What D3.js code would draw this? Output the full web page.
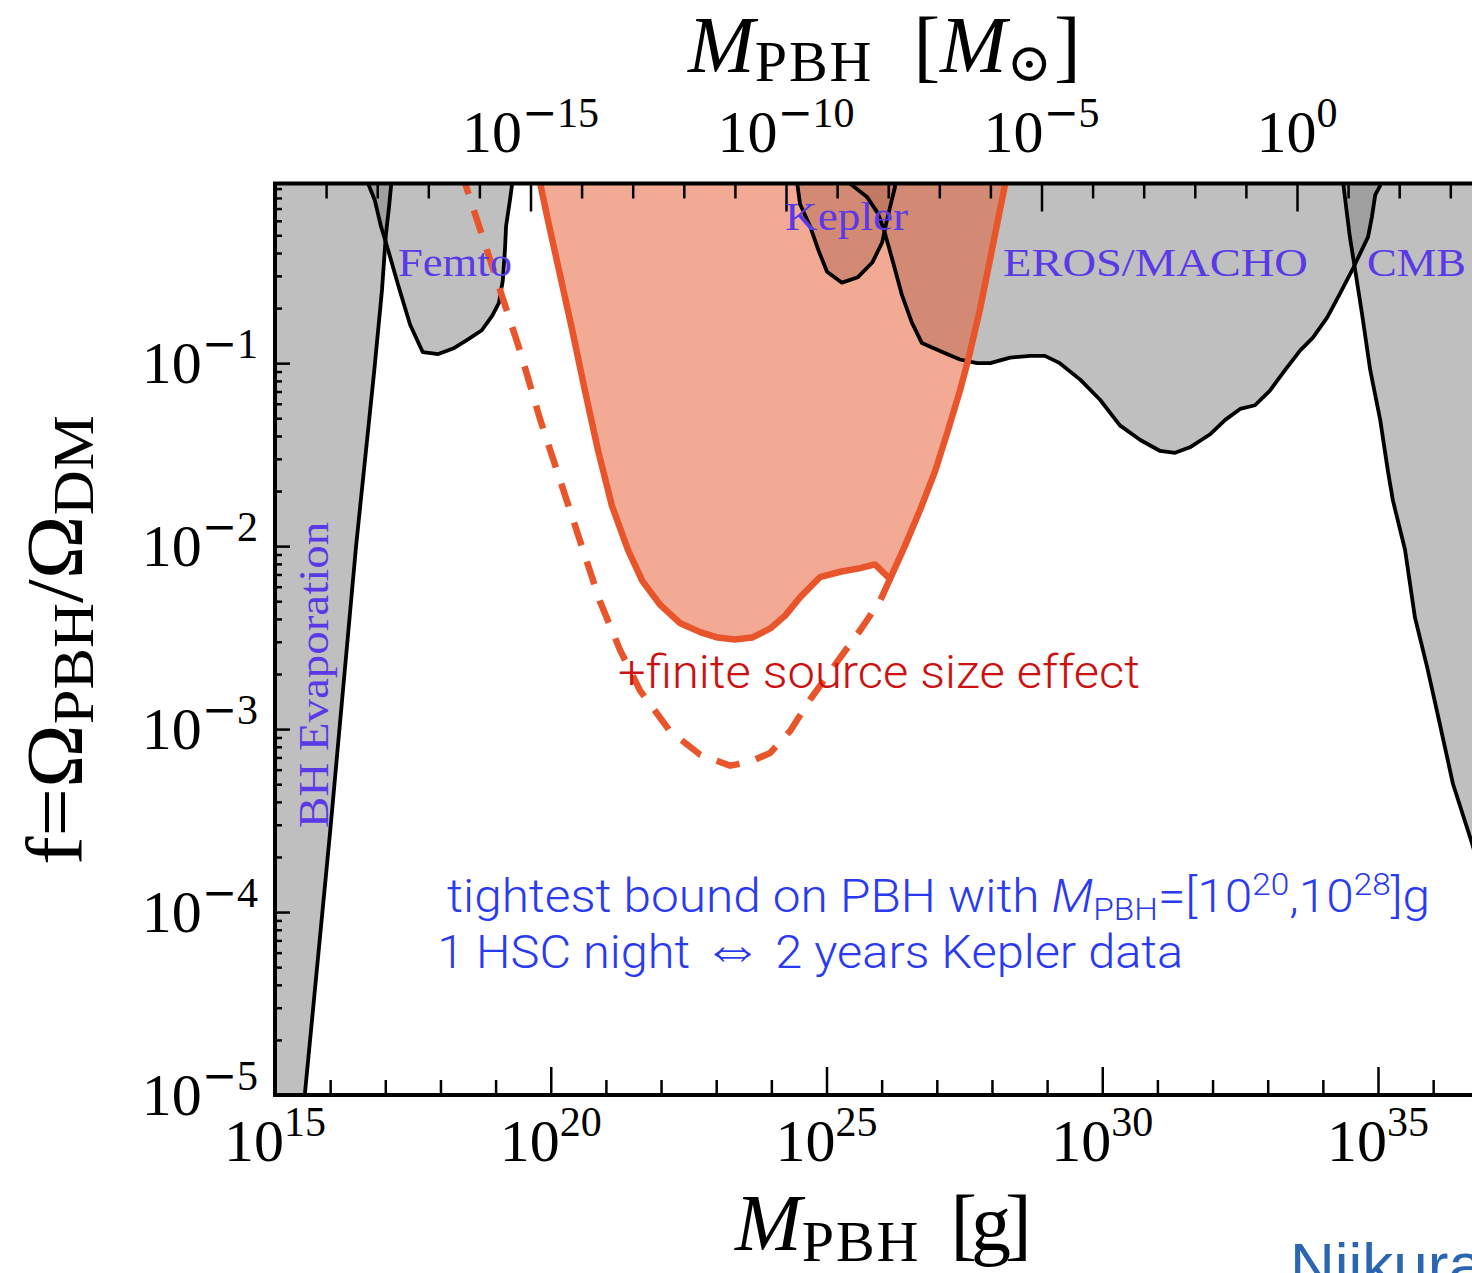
<!DOCTYPE html>
<html>
<head>
<meta charset="utf-8">
<script src="https://cdn.jsdelivr.net/npm/d3@7"></script>
<style>
  body { margin: 0; background: #fff; }
  svg { display: block; }
  .tick line { stroke: #000; stroke-width: 2.5; }
</style>
</head>
<body>
<div id="chart"></div>
<script>
// PBH abundance constraints.
// Every pair is [log10 M_PBH in g, log10 f].

const evapCurve = [[14.9,-7.0],[15.54,-5.0],[16.0,-3.56],[16.47,-2.0],[16.8,-1.04],
  [16.94,-0.6],[17.01,-0.3],[17.07,-0.14],[17.13,0.05]];

const femtoCurve = [[16.66,0.05],[16.69,-0.02],[16.81,-0.11],[16.92,-0.25],[17.05,-0.38],
  [17.23,-0.57],[17.45,-0.79],[17.68,-0.94],[17.96,-0.95],[18.23,-0.92],[18.5,-0.87],
  [18.75,-0.82],[18.94,-0.74],[19.06,-0.67],[19.13,-0.55],[19.17,-0.38],[19.19,-0.25],
  [19.26,-0.11],[19.3,-0.02],[19.31,0.05]];

const keplerCurve = [[24.45,0.05],[24.47,-0.02],[24.52,-0.13],[24.7,-0.25],[24.85,-0.38],
  [25.01,-0.5],[25.28,-0.56],[25.57,-0.53],[25.83,-0.45],[26.01,-0.34],[26.08,-0.24],
  [26.15,-0.15],[26.24,-0.04],[26.26,0.05]];

const erosCurve = [[25.39,0.05],[25.43,-0.02],[25.73,-0.09],[25.93,-0.18],[26.04,-0.27],
  [26.19,-0.43],[26.37,-0.63],[26.55,-0.78],[26.73,-0.89],[27.11,-0.94],[27.42,-0.98],
  [27.73,-1.0],[27.97,-1.0],[28.33,-0.97],[28.69,-0.96],[28.96,-0.96],[29.23,-1.0],
  [29.6,-1.09],[29.96,-1.2],[30.32,-1.34],[30.69,-1.42],[31.05,-1.48],[31.32,-1.49],
  [31.59,-1.46],[31.95,-1.39],[32.23,-1.31],[32.5,-1.25],[32.77,-1.23],[33.04,-1.15],
  [33.31,-1.04],[33.59,-0.93],[33.82,-0.86],[34.08,-0.75],[34.31,-0.62],[34.55,-0.48],
  [34.82,-0.31],[34.89,-0.2],[34.95,-0.08],[35.04,-0.03],[35.07,0.05]];

const cmbCurve = [[34.35,0.05],[34.37,-0.02],[34.49,-0.31],[34.58,-0.48],[34.71,-0.73],
  [34.86,-1.04],[35.04,-1.31],[35.18,-1.59],[35.27,-1.75],[35.49,-2.02],[35.67,-2.39],
  [35.89,-2.66],[36.09,-2.93],[36.36,-3.3],[36.7,-3.62],[37.12,-4.04]];

// HSC bound, point-source (solid) and with finite source size (dashed)
const hscCurve = [[19.77,0.05],[19.81,-0.02],[19.95,-0.22],[20.17,-0.52],[20.39,-0.82],
  [20.62,-1.15],[20.86,-1.48],[21.11,-1.78],[21.4,-2.02],[21.66,-2.19],[21.98,-2.32],
  [22.34,-2.42],[22.71,-2.47],[23.03,-2.5],[23.34,-2.51],[23.65,-2.5],[23.98,-2.45],
  [24.25,-2.38],[24.52,-2.28],[24.88,-2.17],[25.25,-2.14],[25.61,-2.12],[25.88,-2.1],
  [26.15,-2.18],[26.42,-2.0],[26.7,-1.8],[26.97,-1.59],[27.2,-1.37],[27.42,-1.15],
  [27.57,-0.98],[27.78,-0.71],[28.0,-0.38],[28.24,-0.02],[28.27,0.05]];

const hscFiniteCurve = [[18.39,0.05],[18.45,-0.02],[18.72,-0.27],[19.08,-0.6],[19.44,-0.93],
  [19.81,-1.31],[20.17,-1.64],[20.53,-1.97],[20.89,-2.3],[21.26,-2.57],[21.62,-2.79],
  [22.16,-3.01],[22.71,-3.14],[23.25,-3.2],[23.61,-3.18],[23.98,-3.13],[24.34,-3.01],
  [24.7,-2.84],[25.15,-2.65],[25.61,-2.46],[25.97,-2.3],[26.15,-2.18]];

// tick exponents
const xMajorExp = [15, 20, 25, 30, 35];
const xMinorExp = d3.range(16, 38).filter(e => e % 5 !== 0);
const topMajorExp = [-15, -10, -5, 0];
const topMinorExp = d3.range(-19, 4).filter(e => e % 5 !== 0);
const yMajorExp = [-5, -4, -3, -2, -1];

(function() {
    const W = 1472, H = 1273;
    const left = 275, right = 1488.3, top = 183.5, bottom = 1095;

    const x = d3.scaleLog().domain([1e15, 1e37]).range([left, right]);
    const y = d3.scaleLog().domain([1e-5, Math.pow(10, -0.018)]).range([bottom, top]);
    // solar-mass axis on top: 51.1 px per decade, 1e-20 at the left spine
    const xTop = d3.scaleLog()
        .domain([1e-20, Math.pow(10, (right - left) / 51.1 - 20)])
        .range([left, right]);

    const svg = d3.select("#chart").append("svg")
        .attr("width", W).attr("height", H);

    svg.append("clipPath").attr("id", "plot")
        .append("rect").attr("x", left).attr("y", top)
        .attr("width", right - left).attr("height", bottom - top);

    const px = d => x(Math.pow(10, d[0]));
    const py = d => y(Math.pow(10, d[1]));
    const line = d3.line().x(px).y(py);
    const areaToTop = d3.area().x(px).y0(top - 20).y1(py);

    const plot = svg.append("g").attr("clip-path", "url(#plot)");

    // GRAY EXCLUSION REGIONS ////////////////////////////////////////////
    const grays = [evapCurve, femtoCurve, keplerCurve, erosCurve, cmbCurve];
    grays.forEach(c => {
        plot.append("path").attr("d", areaToTop(c))
            .attr("fill", "#808080").attr("fill-opacity", 0.5);
    });

    // HSC region on top
    plot.append("path").attr("d", areaToTop(hscCurve))
        .attr("fill", "#e8552b").attr("fill-opacity", 0.5);

    grays.forEach(c => {
        plot.append("path").attr("d", line(c))
            .attr("fill", "none").attr("stroke", "#000").attr("stroke-width", 3.8)
            .attr("stroke-linejoin", "round");
    });

    plot.append("path").attr("d", line(hscFiniteCurve))
        .attr("fill", "none").attr("stroke", "#e8552b").attr("stroke-width", 6.5)
        .attr("stroke-dasharray", "24,17");
    plot.append("path").attr("d", line(hscCurve))
        .attr("fill", "none").attr("stroke", "#e8552b").attr("stroke-width", 6.5)
        .attr("stroke-linejoin", "round");

    // AXES ////////////////////////////////////////////////////////////////
    function ticks(axis, values, size) {
        return axis.tickValues(values).tickSize(-size).tickSizeOuter(0).tickFormat("");
    }
    const p10 = e => Math.pow(10, e);
    const yMinor = [];
    d3.range(-5, 1).forEach(d => d3.range(2, 10).forEach(k => {
        if (d < 0 || k * p10(d) < 0.95) yMinor.push(k * p10(d));
    }));

    const axes = svg.append("g");
    [[d3.axisBottom(x), xMajorExp.map(p10), 28, `translate(0,${bottom})`],
     [d3.axisBottom(x), xMinorExp.map(p10), 15, `translate(0,${bottom})`],
     [d3.axisTop(xTop), topMajorExp.map(p10), 28, `translate(0,${top})`],
     [d3.axisTop(xTop), topMinorExp.map(p10), 15, `translate(0,${top})`],
     [d3.axisLeft(y), yMajorExp.map(p10), 15, `translate(${left},0)`],
     [d3.axisLeft(y), yMinor, 7, `translate(${left},0)`],
     [d3.axisRight(y), yMajorExp.map(p10), 15, `translate(${right},0)`],
     [d3.axisRight(y), yMinor, 7, `translate(${right},0)`]
    ].forEach(([ax, vals, len, tr]) => {
        const g = axes.append("g").attr("transform", tr).call(ticks(ax, vals, len));
        g.select(".domain").remove();
    });

    svg.append("rect").attr("x", left).attr("y", top)
        .attr("width", right - left).attr("height", bottom - top)
        .attr("fill", "none").attr("stroke", "#000").attr("stroke-width", 4);

    // tick labels with superscripts
    const serif = "'Liberation Serif', 'DejaVu Serif', serif";
    function powText(g, xx, yy, exp, anchor) {
        const t = g.append("text").attr("x", xx).attr("y", yy)
            .attr("text-anchor", anchor).attr("font-family", serif)
            .attr("font-size", 60).attr("fill", "#000");
        t.append("tspan").text("10");
        if (exp < 0) {
            t.append("tspan").attr("font-size", 42).attr("dy", -25)
                .attr("font-family", "'DejaVu Serif', serif").attr("font-weight", 300)
                .text("\u2212");
            t.append("tspan").attr("font-size", 42).text(String(-exp));
        } else {
            t.append("tspan").attr("font-size", 42).attr("dy", -25).text(String(exp));
        }
        return t;
    }
    xMajorExp.forEach(e => powText(svg, x(p10(e)), 1161, e, "middle"));
    topMajorExp.forEach(e => powText(svg, xTop(p10(e)), 152, e, "middle"));
    yMajorExp.forEach(e => powText(svg, 258, y(p10(e)) + 20, e, "end"));

    // axis titles
    const bt = svg.append("text").attr("x", 735).attr("y", 1250)
        .attr("font-family", serif).attr("font-size", 80);
    bt.append("tspan").attr("font-style", "italic").text("M");
    bt.append("tspan").attr("font-size", 58).attr("letter-spacing", 2)
        .attr("dy", 11).text("PBH");
    bt.append("tspan").attr("dy", -11).attr("dx", 30).attr("letter-spacing", -6)
        .text("[g]");

    const tt = svg.append("text").attr("x", 688).attr("y", 72)
        .attr("font-family", serif).attr("font-size", 80);
    tt.append("tspan").attr("font-style", "italic").text("M");
    tt.append("tspan").attr("font-size", 58).attr("letter-spacing", 2)
        .attr("dy", 9).text("PBH");
    tt.append("tspan").attr("dy", -9).attr("dx", 40).text("[");
    tt.append("tspan").attr("font-style", "italic").text("M");
    tt.append("tspan").attr("font-size", 54).attr("dy", 9).text("\u2299");
    tt.append("tspan").attr("dy", -9).attr("dx", 2).text("]");

    const yt = svg.append("text")
        .attr("transform", "translate(82,865) rotate(-90)")
        .attr("font-family", serif).attr("font-size", 80)
        .attr("textLength", 450).attr("lengthAdjust", "spacingAndGlyphs");
    yt.append("tspan").text("f=\u03a9");
    yt.append("tspan").attr("font-size", 58).attr("dy", 11).text("PBH");
    yt.append("tspan").attr("dy", -11).text("/\u03a9");
    yt.append("tspan").attr("font-size", 58).attr("dy", 11).text("DM");

    // REGION LABELS ///////////////////////////////////////////////////////
    const purple = "#5a3ae6";
    const lab = (txt, lx, ly, len) => svg.append("text")
        .attr("x", x(p10(lx))).attr("y", y(p10(ly)))
        .attr("font-family", serif).attr("font-size", 40).attr("fill", purple)
        .attr("textLength", len).attr("lengthAdjust", "spacingAndGlyphs")
        .text(txt);
    lab("Femto", 17.23, -0.525, 114);
    lab("Kepler", 24.25, -0.273, 123);
    lab("EROS/MACHO", 28.2, -0.525, 305);
    lab("CMB", 34.8, -0.525, 99);

    svg.append("text")
        .attr("transform", `translate(${x(p10(15.97))},${y(p10(-3.54))}) rotate(-90)`)
        .attr("font-family", serif).attr("font-size", 42).attr("fill", purple)
        .attr("textLength", 306).attr("lengthAdjust", "spacingAndGlyphs")
        .text("BH Evaporation");

    const sans = "Roboto, 'Liberation Sans', sans-serif";
    svg.append("text")
        .attr("x", x(p10(21.22))).attr("y", y(p10(-2.776)))
        .attr("font-family", sans).attr("font-weight", 300).attr("font-size", 46)
        .attr("fill", "#cc1111")
        .attr("textLength", 522).attr("lengthAdjust", "spacingAndGlyphs")
        .text("+finite source size effect");

    const blue = "#2a3af2";
    const l1 = svg.append("text")
        .attr("x", x(p10(18.12))).attr("y", y(p10(-4.0)))
        .attr("font-family", sans).attr("font-weight", 300).attr("font-size", 46)
        .attr("fill", blue)
        .attr("textLength", 983).attr("lengthAdjust", "spacingAndGlyphs");
    l1.append("tspan").text("tightest bound on PBH with ");
    l1.append("tspan").attr("font-style", "italic").text("M");
    l1.append("tspan").attr("font-size", 31).attr("dy", 8).text("PBH");
    l1.append("tspan").attr("dy", -8).text("=[10");
    l1.append("tspan").attr("font-size", 31).attr("dy", -17).text("20");
    l1.append("tspan").attr("dy", 17).text(",10");
    l1.append("tspan").attr("font-size", 31).attr("dy", -17).text("28");
    l1.append("tspan").attr("dy", 17).text("]g");

    const l2 = svg.append("text")
        .attr("x", x(p10(17.94))).attr("y", y(p10(-4.306)))
        .attr("font-family", sans).attr("font-weight", 300).attr("font-size", 46)
        .attr("fill", blue)
        .attr("textLength", 746).attr("lengthAdjust", "spacingAndGlyphs");
    l2.append("tspan").text("1 HSC night ");
    l2.append("tspan").attr("font-family", "'DejaVu Sans', sans-serif")
        .attr("font-size", 58).text("\u21d4");
    l2.append("tspan").text(" 2 years Kepler data");

    svg.append("text").attr("x", 1290).attr("y", 1286)
        .attr("font-family", "'Liberation Sans', sans-serif").attr("font-size", 62)
        .attr("fill", "#2a66b2").text("Niikura");
})();
</script>
</body>
</html>
